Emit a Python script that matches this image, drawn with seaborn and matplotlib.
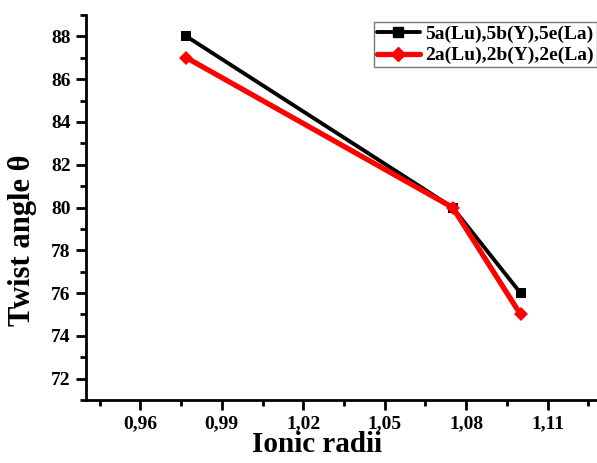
import matplotlib
matplotlib.use("Agg")
import matplotlib.pyplot as plt
import seaborn as sns
import pandas as pd
from matplotlib.ticker import MultipleLocator, FuncFormatter
from matplotlib.lines import Line2D

ionic_radii = [0.977, 1.075, 1.100]
series5 = [88, 80, 76]
series2 = [87, 80, 75]
label5 = "5a(Lu),5b(Y),5e(La)"
label2 = "2a(Lu),2b(Y),2e(La)"

df = pd.DataFrame({
    "x": ionic_radii * 2,
    "y": series5 + series2,
    "series": [label5] * 3 + [label2] * 3,
})

sns.set_style("ticks")
plt.rcParams["font.family"] = ["Liberation Serif", "DejaVu Serif"]
plt.rcParams["font.weight"] = "bold"
plt.rcParams["text.color"] = "black"
plt.rcParams["axes.labelcolor"] = "black"
plt.rcParams["xtick.color"] = "black"
plt.rcParams["ytick.color"] = "black"

fig = plt.figure(figsize=(5.97, 4.63), dpi=100)
ax = fig.add_axes([86/597, 63/463, 516/597, 385/463])

sns.lineplot(data=df, x="x", y="y", hue="series", style="series",
             palette={label5: "black", label2: "red"},
             markers={label5: "s", label2: "D"}, dashes=False,
             ax=ax, legend=False, markeredgewidth=0)
lines = ax.get_lines()
lines[0].set_linewidth(2.8); lines[0].set_markersize(7)
lines[1].set_linewidth(3.8); lines[1].set_markersize(7)

ax.set_xlim(0.94, 1.13)
ax.set_ylim(71, 89)
ax.xaxis.set_major_locator(MultipleLocator(0.03))
ax.xaxis.set_minor_locator(MultipleLocator(0.015))
ax.yaxis.set_minor_locator(MultipleLocator(1))
ax.xaxis.set_major_formatter(FuncFormatter(lambda v, p: f"{v:.2f}".replace(".", ",")))
ax.set_yticks([72, 74, 76, 78, 80, 82, 84, 86, 88])

for s in ["top", "right"]:
    ax.spines[s].set_visible(False)
for s in ["left", "bottom"]:
    ax.spines[s].set_linewidth(2)
    ax.spines[s].set_color("black")
ax.tick_params(which="major", direction="out", length=7, width=2, labelsize=14, colors="black")
ax.tick_params(which="minor", direction="out", length=4, width=2, colors="black")
for t in ax.get_xticklabels() + ax.get_yticklabels():
    t.set_fontweight("bold")
ax.tick_params(axis="x", pad=4)
ax.tick_params(axis="y", pad=4)

ax.set_xlabel("Ionic radii", fontsize=21, fontweight="bold", labelpad=0)
ax.set_ylabel("Twist angle θ", fontsize=22, fontweight="bold", labelpad=6)
ax.xaxis.set_label_coords((317 - 86) / 516, (400 - 431) / 385)
ax.yaxis.set_label_coords((37 - 86) / 516, (400 - 240) / 385)

handles = [Line2D([], [], color="black", lw=2.8, marker="s", markersize=7),
           Line2D([], [], color="red", lw=3.8, marker="D", markersize=7)]
leg = fig.legend(handles, [label5, label2], loc="upper right",
                 bbox_to_anchor=(1.0, 0.952), prop={"weight": "bold", "size": 14},
                 frameon=True, fancybox=False, edgecolor="#555555",
                 handlelength=2.2, borderpad=0.15, labelspacing=0.2, handletextpad=0.3,
                 borderaxespad=0)
leg.get_frame().set_linewidth(1)

fig.savefig("out.png", dpi=100)
